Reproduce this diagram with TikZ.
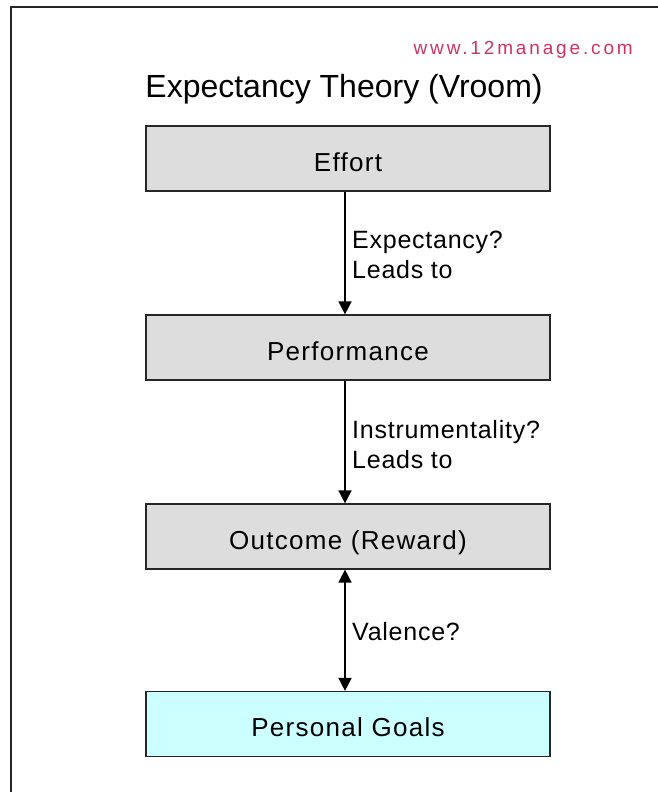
\documentclass[tikz,border=0pt]{standalone}
\usepackage{fontspec}
\setmainfont{Liberation Sans}
\usetikzlibrary{arrows.meta}
\definecolor{boxgray}{RGB}{221,221,221}
\definecolor{goalcyan}{RGB}{204,255,255}
\definecolor{urlred}{RGB}{204,51,102}
\tikzset{
  stagebox/.style={draw=black!85, line width=1.2pt, fill=boxgray,
    minimum width=404pt, minimum height=65pt, inner sep=0pt,
    text height=25pt, text depth=0pt,
    font=\fontsize{26}{30}\selectfont\addfontfeatures{LetterSpace=5}},
  goalbox/.style={stagebox, fill=goalcyan},
  lbl/.style={anchor=base west, inner sep=0pt,
    font=\fontsize{25}{30}\selectfont\addfontfeatures{LetterSpace=3}},
  arr/.style={line width=1.5pt, -{Triangle[width=13pt,length=13pt]}},
  dblarr/.style={line width=1.5pt, {Triangle[width=13pt,length=13pt]}-{Triangle[width=13pt,length=13pt]}}
}
\begin{document}
\begin{tikzpicture}[x=1pt, y=-1pt]
\useasboundingbox[fill=white] (0,0) rectangle (658,792);
\draw[line width=2pt, black!85] (11,792) -- (11,7) -- (658,7);
\node[anchor=base east, inner sep=0pt, text=urlred,
  font=\fontsize{19}{22}\selectfont\addfontfeatures{LetterSpace=15}] (url) at (633,55) {www.12manage.com};
\node[anchor=base, inner sep=0pt, font=\fontsize{32}{36}\selectfont] (title) at (344,97) {Expectancy Theory (Vroom)};
\node[stagebox] (effort) at (348,158.5) {Effort};
\node[stagebox] (perf) at (348,347.5) {Performance};
\node[stagebox] (outc) at (348,536.5) {Outcome (Reward)};
\node[goalbox] (goals) at (348,724) {Personal Goals};
\draw[arr] ([xshift=-3pt]effort.south) -- ([xshift=-3pt]perf.north);
\draw[arr] ([xshift=-3pt]perf.south) -- ([xshift=-3pt]outc.north);
\draw[dblarr] ([xshift=-3pt]outc.south) -- ([xshift=-3pt]goals.north);
\node[lbl] (l1) at (352,248) {Expectancy?};
\node[lbl] (l2) at (352,278) {Leads to};
\node[lbl] (l3) at (352,438) {Instrumentality?};
\node[lbl] (l4) at (352,468) {Leads to};
\node[lbl] (l5) at (352,640) {Valence?};
\end{tikzpicture}
\end{document}
